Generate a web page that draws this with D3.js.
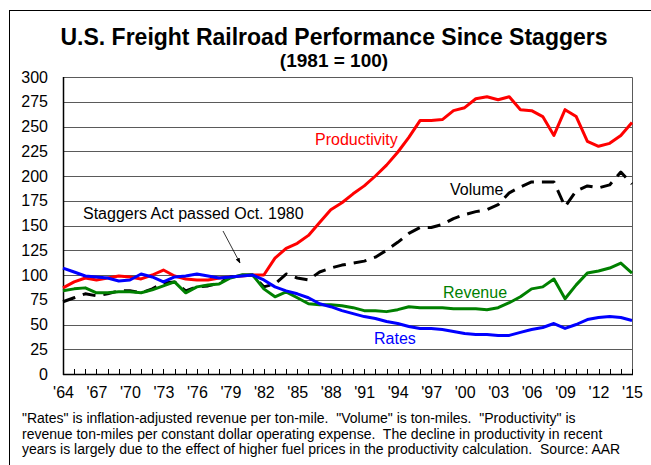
<!DOCTYPE html>
<html>
<head>
<meta charset="utf-8">
<script src="https://cdn.jsdelivr.net/npm/d3@7"></script>
<style>
  body { margin: 0; background: #fff; }
  svg { display: block; font-family: "Liberation Sans", Arial, sans-serif; }
</style>
</head>
<body>
<svg id="chart" width="651" height="465"></svg>
<script>
  //============================================================
  // Data (1981 = 100)
  //------------------------------------------------------------

  var years = d3.range(1964, 2016);

  var productivity = [87, 93, 97, 95, 97, 99, 98, 96, 100, 105, 99, 96, 95, 95, 97, 98, 99,
    100, 100, 117, 127, 132, 140, 153, 166, 173, 182, 190, 200, 211, 224, 239, 256, 256,
    257, 266, 269, 278, 280, 277, 280, 267, 266, 260, 241, 267, 260, 235, 230, 233, 241, 254];

  var volume = [73, 77, 81, 79, 81, 84, 84, 82, 86, 92, 93, 84, 88, 89, 92, 98, 100,
    100, 88, 91, 101, 97, 95, 103, 107, 110, 112, 114, 118, 125, 133, 142, 148, 148,
    151, 157, 161, 164, 166, 171, 183, 189, 194, 194, 194, 169, 185, 190, 188, 191, 204, 192];

  var revenue = [84, 86, 87, 82, 82, 83, 83, 82, 85, 89, 93, 82, 88, 90, 91, 97, 100,
    100, 86, 78, 83, 77, 71, 70, 70, 69, 67, 64, 64, 63, 65, 68, 67, 67,
    67, 66, 66, 66, 65, 67, 72, 78, 86, 88, 96, 76, 90, 102, 104, 107, 112, 102];

  var rates = [107, 103, 99, 98, 97, 94, 95, 101, 98, 93, 98, 99, 101, 99, 97, 98, 99,
    100, 95, 88, 84, 81, 77, 71, 68, 64, 61, 58, 56, 53, 51, 48, 46, 46,
    45, 43, 41, 40, 40, 39, 39, 42, 45, 47, 51, 46, 50, 55, 57, 58, 57, 54];

  var yTicks = d3.range(0, 301, 25);
  var xLabelYears = d3.range(1964, 2016, 3);

  var footnote = [
    "\"Rates\" is inflation-adjusted revenue per ton-mile.  \"Volume\" is ton-miles.  \"Productivity\" is",
    "revenue ton-miles per constant dollar operating expense.  The decline in productivity in recent",
    "years is largely due to the effect of higher fuel prices in the productivity calculation.  Source: AAR"
  ];

  //============================================================
  // Layout
  //------------------------------------------------------------

  var width = 651,
    height = 465,
    margin = { top: 77, right: 19, bottom: 91, left: 63 };

  var svg = d3.select("#chart");

  var x = d3.scaleLinear()
    .domain([1964, 2015])
    .range([margin.left, width - margin.right]);

  var y = d3.scaleLinear()
    .domain([0, 300])
    .range([height - margin.bottom, margin.top]);

  // outer frame
  svg.append("rect")
    .attr("x", 9.5).attr("y", 10.5)
    .attr("width", 660).attr("height", 480)
    .attr("fill", "none").attr("stroke", "#000").attr("stroke-width", 1);

  // titles
  svg.append("text")
    .attr("x", 334).attr("y", 45)
    .attr("text-anchor", "middle")
    .style("font-size", "23px").style("font-weight", "bold")
    .text("U.S. Freight Railroad Performance Since Staggers");

  svg.append("text")
    .attr("x", 334).attr("y", 67)
    .attr("text-anchor", "middle")
    .style("font-size", "19px").style("font-weight", "bold")
    .text("(1981 = 100)");

  //============================================================
  // Grid and axes
  //------------------------------------------------------------

  svg.append("g")
    .selectAll("line")
    .data(yTicks.filter(function(d) { return d > 0 && d < 300; }))
    .enter().append("line")
    .attr("x1", x.range()[0]).attr("x2", x.range()[1])
    .attr("y1", function(d) { return Math.round(y(d)) + 0.5; })
    .attr("y2", function(d) { return Math.round(y(d)) + 0.5; })
    .attr("stroke", "#5a5a5a").attr("stroke-width", 1);

  // plot frame: top and right in gray
  svg.append("path")
    .attr("d", "M" + x.range()[0] + "," + (Math.round(y(300)) + 0.5) +
      "H" + (Math.round(x.range()[1]) + 0.5) + "V" + y(0))
    .attr("fill", "none").attr("stroke", "#5a5a5a");

  var yAxis = svg.append("g")
    .attr("transform", "translate(" + margin.left + ",0)")
    .call(d3.axisLeft(y).tickValues(yTicks).tickSize(0).tickPadding(15));
  yAxis.select(".domain").remove();
  yAxis.selectAll("text")
    .style("font-size", "16px").style("font-family", "Liberation Sans, Arial, sans-serif")
    .attr("fill", "#000");

  var xAxis = svg.append("g")
    .attr("transform", "translate(0," + y(0) + ")")
    .call(d3.axisBottom(x).tickValues(xLabelYears).tickSize(0).tickPadding(13)
      .tickFormat(function(d) { return "'" + String(d).slice(2); }));
  xAxis.select(".domain").remove();
  xAxis.selectAll("text")
    .style("font-size", "16px").style("font-family", "Liberation Sans, Arial, sans-serif")
    .attr("fill", "#000");

  // small year ticks pointing into the plot
  svg.append("g")
    .selectAll("line")
    .data(years)
    .enter().append("line")
    .attr("x1", function(d) { return Math.round(x(d)) + 0.5; })
    .attr("x2", function(d) { return Math.round(x(d)) + 0.5; })
    .attr("y1", y(0) - 5).attr("y2", y(0))
    .attr("stroke", "#000");

  // axis lines
  svg.append("line")
    .attr("x1", margin.left + 0.5).attr("x2", margin.left + 0.5)
    .attr("y1", y(300)).attr("y2", y(0) + 1)
    .attr("stroke", "#000").attr("stroke-width", 1.5);
  svg.append("line")
    .attr("x1", margin.left).attr("x2", x.range()[1] + 1)
    .attr("y1", y(0) + 0.5).attr("y2", y(0) + 0.5)
    .attr("stroke", "#000").attr("stroke-width", 1.5);

  //============================================================
  // Series
  //------------------------------------------------------------

  var line = d3.line()
    .x(function(d, i) { return x(years[i]); })
    .y(function(d) { return y(d); });

  var series = [
    { values: productivity, color: "#ff0000", dash: null },
    { values: volume, color: "#000000", dash: "13,8" },
    { values: revenue, color: "#008000", dash: null },
    { values: rates, color: "#0000ff", dash: null }
  ];

  series.forEach(function(s) {
    svg.append("path")
      .datum(s.values)
      .attr("d", line)
      .attr("fill", "none")
      .attr("stroke", s.color)
      .attr("stroke-width", 3)
      .attr("stroke-linejoin", "round")
      .attr("stroke-dasharray", s.dash);
  });

  //============================================================
  // Labels and annotation
  //------------------------------------------------------------

  var labels = [
    { text: "Productivity", x: 315, y: 145, color: "#ff0000" },
    { text: "Volume", x: 450, y: 195, color: "#000000" },
    { text: "Revenue", x: 443, y: 298, color: "#008000" },
    { text: "Rates", x: 374, y: 344, color: "#0000ff" },
    { text: "Staggers Act passed Oct. 1980", x: 83, y: 219, color: "#000000" }
  ];

  svg.append("g")
    .selectAll("text")
    .data(labels)
    .enter().append("text")
    .attr("x", function(d) { return d.x; })
    .attr("y", function(d) { return d.y; })
    .attr("fill", function(d) { return d.color; })
    .style("font-size", "16px")
    .text(function(d) { return d.text; });

  svg.append("defs").append("marker")
    .attr("id", "arrow")
    .attr("viewBox", "0 0 10 10")
    .attr("refX", 9).attr("refY", 5)
    .attr("markerWidth", 7).attr("markerHeight", 7)
    .attr("orient", "auto")
    .append("path")
    .attr("d", "M0,1L10,5L0,9Z")
    .attr("fill", "#000");

  svg.append("line")
    .attr("x1", 223).attr("y1", 231)
    .attr("x2", 240).attr("y2", 263)
    .attr("stroke", "#000").attr("stroke-width", 0.8)
    .attr("marker-end", "url(#arrow)");

  // footnote
  svg.append("g")
    .selectAll("text")
    .data(footnote)
    .enter().append("text")
    .attr("x", 22)
    .attr("y", function(d, i) { return 423 + i * 15.5; })
    .style("font-size", "14px")
    .style("white-space", "pre")
    .attr("xml:space", "preserve")
    .text(function(d) { return d; });
</script>
</body>
</html>
